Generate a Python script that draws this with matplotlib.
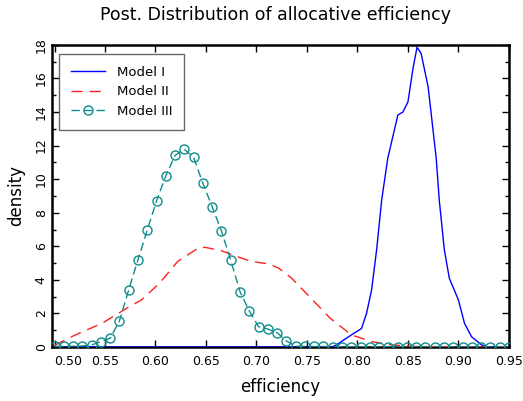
import numpy as np
import matplotlib.pyplot as plt
from matplotlib.ticker import MultipleLocator

# Model I (solid blue)
m1_x = [0.50, 0.775, 0.779, 0.794, 0.804, 0.809, 0.814, 0.819, 0.824, 0.830,
        0.840, 0.845, 0.850, 0.855, 0.859, 0.863, 0.870, 0.878, 0.881, 0.886,
        0.891, 0.900, 0.906, 0.913, 0.923, 0.928, 0.95]
m1_y = [0.0, 0.0, 0.12, 0.72, 1.1, 2.0, 3.4, 5.8, 8.76, 11.24,
        13.82, 14.0, 14.6, 16.6, 17.86, 17.5, 15.5, 11.24, 8.76, 5.8,
        4.09, 2.8, 1.41, 0.61, 0.12, 0.0, 0.0]

# Model II (dashed red)
m2_x = [0.500, 0.520, 0.547, 0.574, 0.586, 0.604, 0.622, 0.642, 0.649, 0.665,
        0.685, 0.695, 0.712, 0.722, 0.735, 0.754, 0.773, 0.794, 0.814, 0.834,
        0.860, 0.900, 0.950]
m2_y = [0.1, 0.7, 1.41, 2.4, 2.8, 3.8, 5.1, 5.88, 5.94, 5.74,
        5.3, 5.1, 4.95, 4.7, 4.09, 2.9, 1.71, 0.72, 0.32, 0.12,
        0.03, 0.0, 0.0]

# Model III (teal circles), 50 grid points from 0.50 to 0.95
m3_x = np.linspace(0.50, 0.95, 50)
m3_y = [0.04, 0.04, 0.05, 0.06, 0.12, 0.32, 0.52, 1.55, 3.40, 5.20,
        6.97, 8.70, 10.20, 11.42, 11.78, 11.30, 9.75, 8.36, 6.91, 5.17,
        3.30, 2.15, 1.21, 1.07, 0.85, 0.36, 0.05, 0.04, 0.03, 0.03,
        0.02, 0.02, 0.02, 0.01, 0.01, 0.01, 0.01, 0.01, 0.01, 0.01,
        0.0, 0.0, 0.0, 0.0, 0.0, 0.0, 0.0, 0.0, 0.0, 0.0]

xticks = [0.50, 0.55, 0.60, 0.65, 0.70, 0.75, 0.80, 0.85, 0.90, 0.95]

fig = plt.figure(figsize=(5.23, 4.01), dpi=100)
ax = fig.add_axes([0.0994, 0.1347, 0.8737, 0.7533])

ax.plot(m1_x, m1_y, color='#0000ff', lw=1.0, label='Model I', zorder=3)
ax.plot(m2_x, m2_y, color='#ff2020', lw=1.0, dashes=(8, 5), label='Model II', zorder=3)
ax.plot(m3_x, m3_y, color='#108c8c', lw=1.0, dashes=(6, 3), marker='o',
        markersize=6.5, markerfacecolor='none', markeredgewidth=1.0,
        label='Model III', zorder=3)

ax.set_xlim(0.4975, 0.95)
ax.set_ylim(0, 18)
ax.set_xticks(xticks)
ax.set_xticklabels([f"{t:.2f}" for t in xticks])
ax.yaxis.set_major_locator(MultipleLocator(2))
ax.yaxis.set_minor_locator(MultipleLocator(1))
ax.tick_params(axis='both', direction='in', top=True, right=True, labelsize=9)
ax.tick_params(axis='both', which='major', length=5, width=1)
ax.tick_params(axis='y', which='minor', direction='in', right=True, length=3, width=1)
ax.tick_params(axis='x', pad=6)
ax.tick_params(axis='y', pad=3)
for lab in ax.get_yticklabels():
    lab.set_rotation(90)
    lab.set_va('center')
ax.get_xticklabels()[0].set_ha('left')
for s in ax.spines.values():
    s.set_linewidth(1.8)

fig.text(0.526, 0.962, "Post. Distribution of allocative efficiency",
         ha='center', va='center', fontsize=12.5)
ax.set_xlabel("efficiency", fontsize=12, labelpad=7)
ax.set_ylabel("density", fontsize=12, labelpad=7)

leg = ax.legend(loc='upper left', bbox_to_anchor=(0.015, 0.97), borderaxespad=0,
                fancybox=False, edgecolor='#444444', fontsize=9.5,
                handlelength=2.6, borderpad=0.9, labelspacing=0.5,
                handletextpad=0.9)
leg.get_frame().set_linewidth(1.0)

fig.savefig("out.png", dpi=100)
